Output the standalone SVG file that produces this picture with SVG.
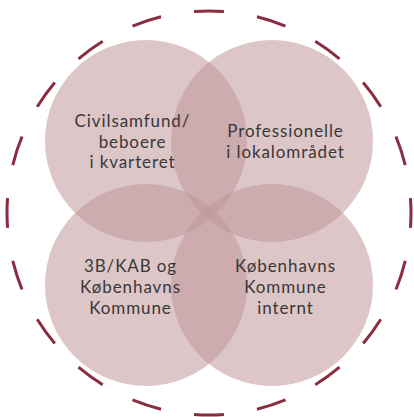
<svg xmlns="http://www.w3.org/2000/svg" width="414" height="417" viewBox="0 0 414 417">
<style>
.c{fill:rgb(191,152,153);fill-opacity:0.55}
.t{font-family:Lato,"Open Sans",sans-serif;font-size:17px;letter-spacing:0.9px;fill:#3a3737;text-anchor:middle}
.ring{fill:none;stroke:#8b2d40;stroke-width:3}
</style>
<rect width="414" height="417" fill="#fff"/>
<g id="outer"><circle class="ring" cx="209" cy="213" r="202" pathLength="360" stroke-dasharray="8.5 9.5" stroke-dashoffset="4.25"/></g>
<g id="civil"><circle class="c" cx="146" cy="141" r="101"/></g>
<g id="prof"><circle class="c" cx="272" cy="141" r="101"/></g>
<g id="kab"><circle class="c" cx="146" cy="285" r="101"/></g>
<g id="kk"><circle class="c" cx="272" cy="285" r="101"/></g>
<g id="labels">
<text class="t" x="132.5" y="127">Civilsamfund/</text>
<text class="t" x="132.5" y="148">beboere</text>
<text class="t" x="132.5" y="168">i kvarteret</text>
<text class="t" x="285.5" y="137">Professionelle</text>
<text class="t" x="285.5" y="158">i lokalområdet</text>
<text class="t" x="130.5" y="272">3B/KAB og</text>
<text class="t" x="130.5" y="293">Københavns</text>
<text class="t" x="130.5" y="314">Kommune</text>
<text class="t" x="285.5" y="272">Københavns</text>
<text class="t" x="285.5" y="293">Kommune</text>
<text class="t" x="285.5" y="314">internt</text>
</g>
</svg>
